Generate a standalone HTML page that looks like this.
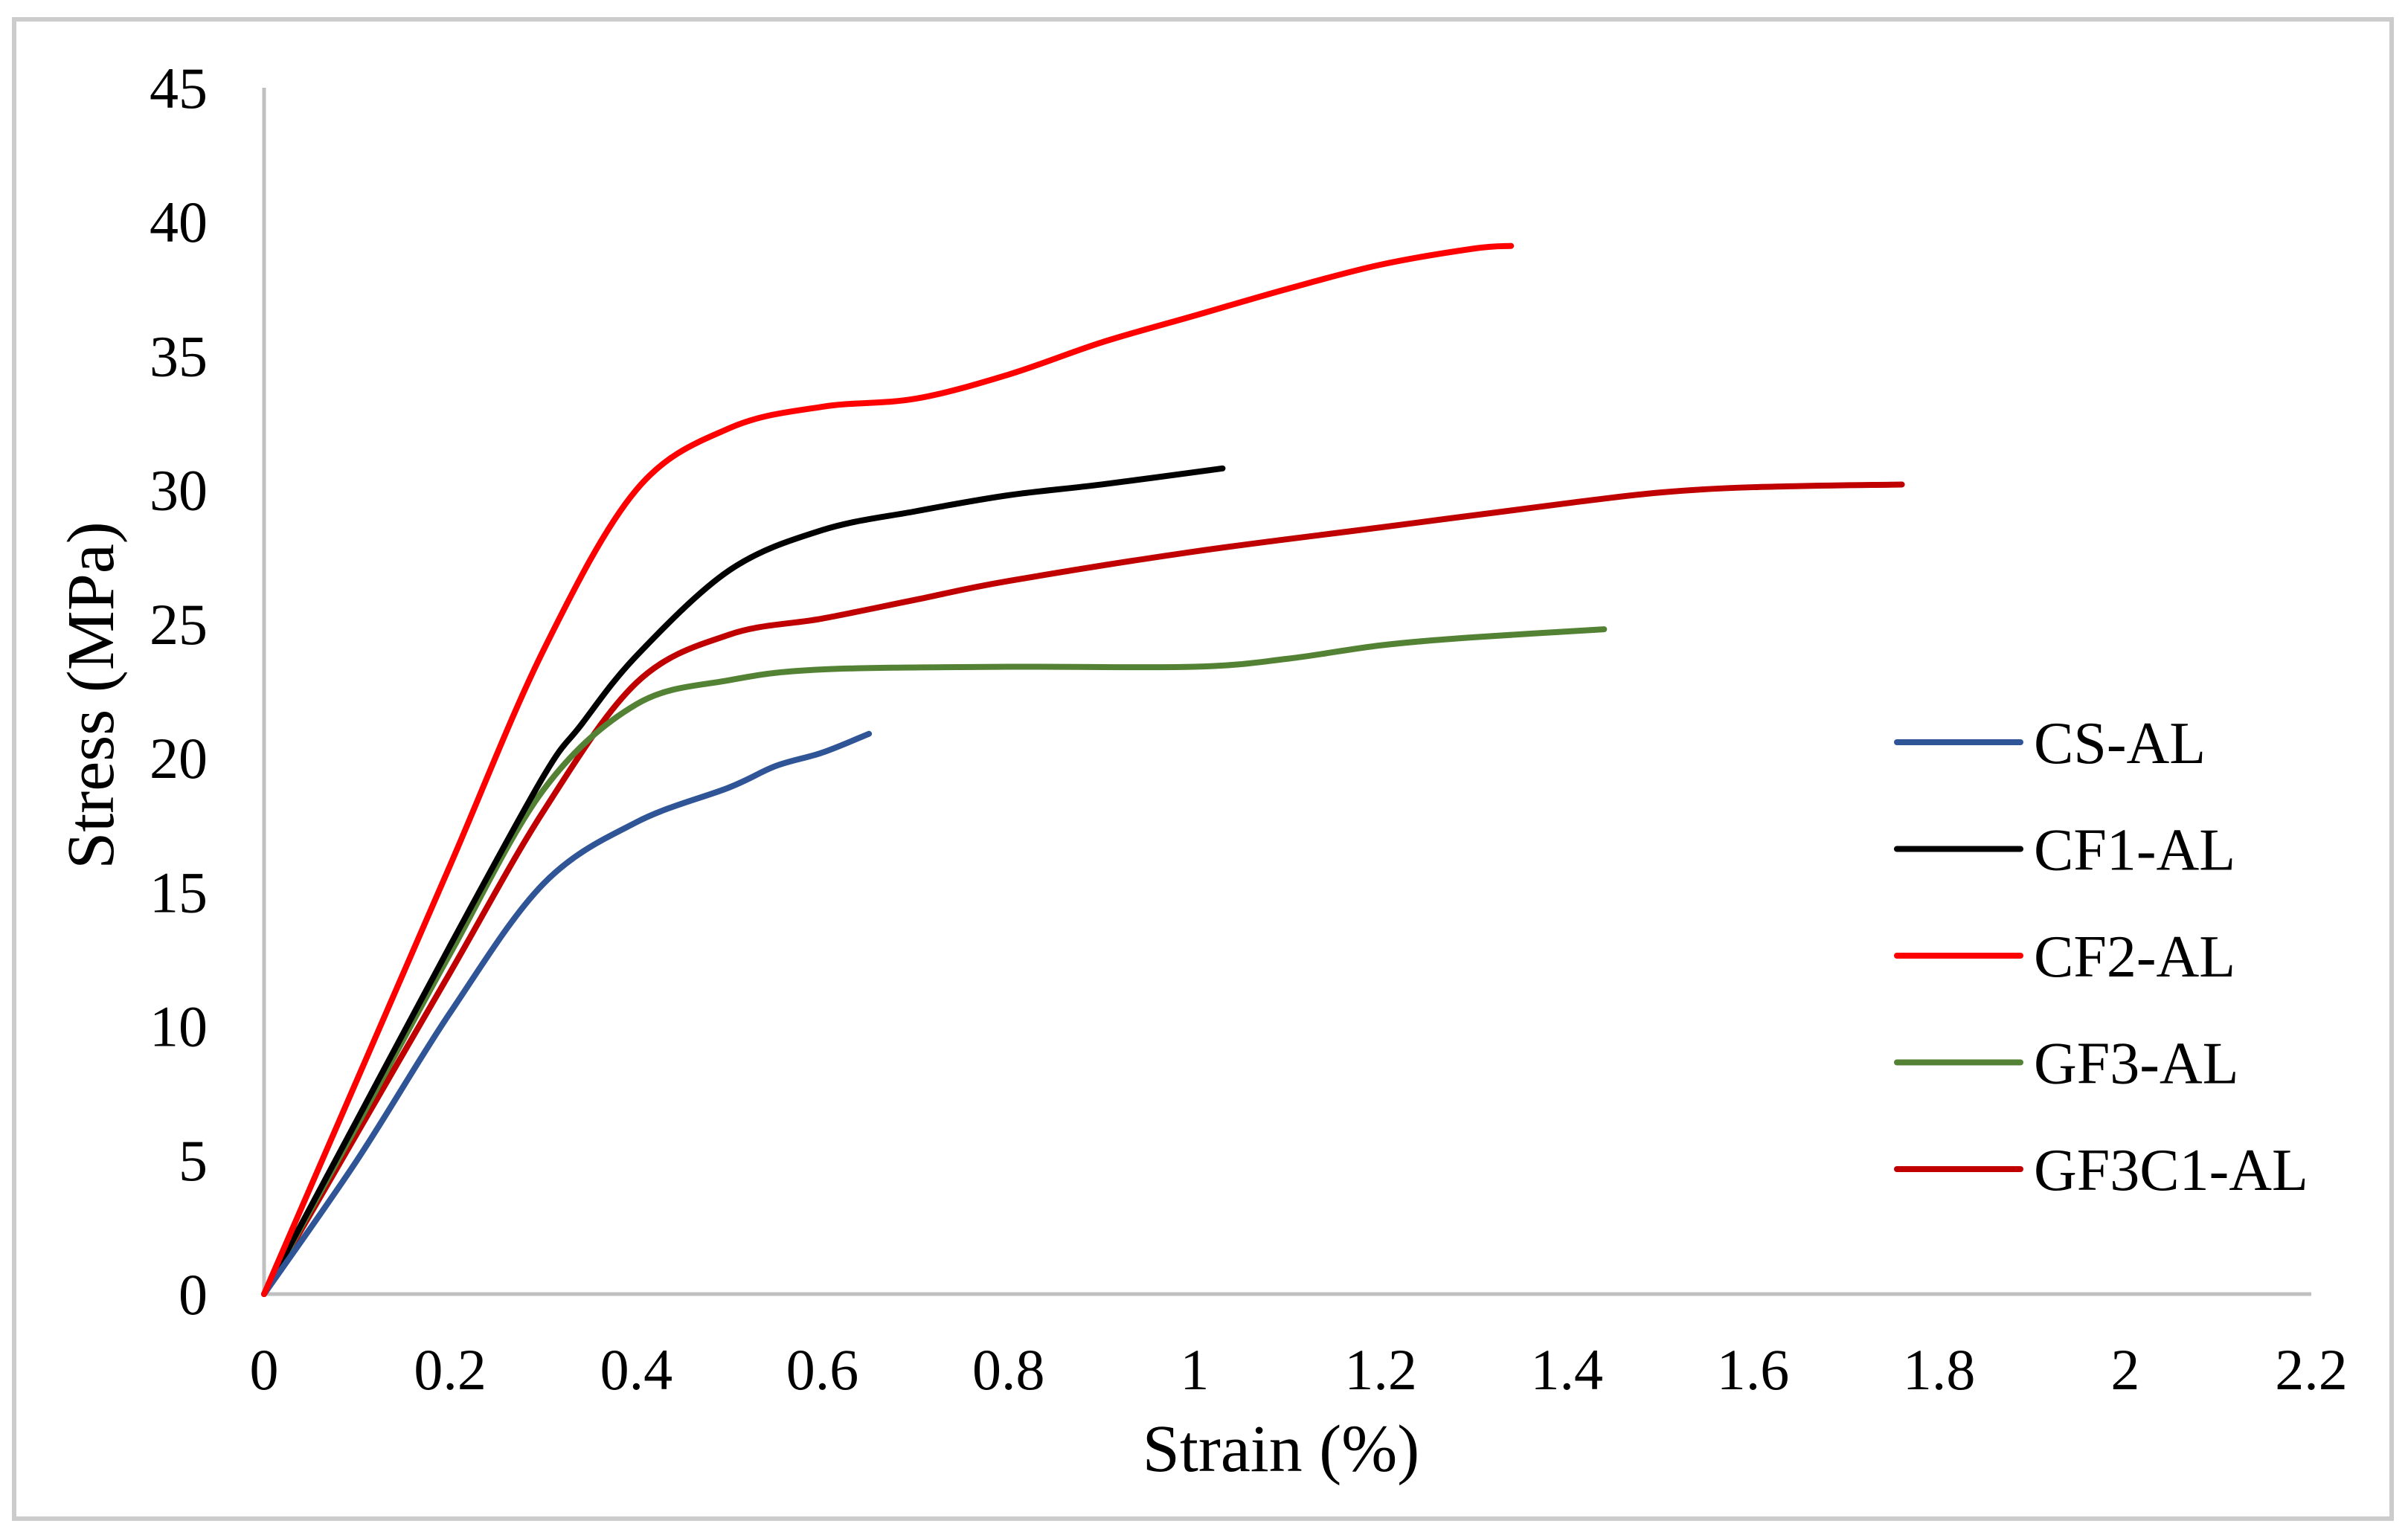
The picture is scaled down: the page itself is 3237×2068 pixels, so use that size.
<!DOCTYPE html>
<html><head><meta charset="utf-8"><style>
html,body{margin:0;padding:0;background:#fff;}
svg{display:block;}
text{font-family:"Liberation Serif",serif;fill:#000;}
</style></head><body>
<svg id="chart" width="3237" height="2068" viewBox="0 0 3237 2068" xmlns="http://www.w3.org/2000/svg">
<rect x="0" y="0" width="3237" height="2068" fill="#fff"/>
<rect x="19" y="26" width="3196" height="2016" fill="#fff" stroke="#cccccc" stroke-width="6"/>
<g id="axes"></g>
<g id="series"></g>
<g id="legend"></g>
<text x="1722" y="1978" font-size="90" text-anchor="middle">Strain (%)</text>
<text x="0" y="0" font-size="90" text-anchor="middle" transform="translate(152,935) rotate(-90)">Stress (MPa)</text>
</svg>
<script>
const xTicks = [0,0.2,0.4,0.6,0.8,1,1.2,1.4,1.6,1.8,2,2.2];
const xTickLabels = ["0","0.2","0.4","0.6","0.8","1","1.2","1.4","1.6","1.8","2","2.2"];
const yTicks = [0,5,10,15,20,25,30,35,40,45];
const yTickLabels = ["0","5","10","15","20","25","30","35","40","45"];
const seriesNames = ["CS-AL","CF1-AL","CF2-AL","GF3-AL","GF3C1-AL"];
const csX = [0,0.1,0.2,0.3,0.4,0.5,0.55,0.6,0.65];
const csY = [0,5,10.5,15.3,17.6,18.9,19.7,20.2,20.9];
const cf1X = [0,0.1,0.2,0.3,0.34,0.4,0.5,0.6,0.7,0.8,0.9,1.03];
const cf1Y = [0,6.5,13,19.3,21.2,23.8,27,28.5,29.2,29.8,30.2,30.8];
const cf2X = [0,0.1,0.2,0.3,0.4,0.5,0.6,0.7,0.8,0.9,1.0,1.1,1.2,1.3,1.34];
const cf2Y = [0,8,16,24,30,32.3,33.1,33.4,34.3,35.5,36.5,37.5,38.4,39.0,39.1];
const gf3X = [0,0.1,0.2,0.3,0.4,0.5,0.6,0.8,1.0,1.1,1.2,1.3,1.44];
const gf3Y = [0,6.3,12.7,18.8,22,22.9,23.3,23.4,23.4,23.7,24.2,24.5,24.8];
const gfcX = [0,0.1,0.2,0.3,0.4,0.5,0.6,0.7,0.8,1.0,1.2,1.4,1.5,1.6,1.76];
const gfcY = [0,6,12,18,22.8,24.6,25.2,25.9,26.6,27.7,28.6,29.5,29.9,30.1,30.2];

const NS="http://www.w3.org/2000/svg";
const X0=355, X1=3107, Y0=1740, Y1=118;
function sx(v){return X0+(v-0)/(2.2-0)*(X1-X0);}
function sy(v){return Y0-(v-0)/(45-0)*(Y0-Y1);}
function mk(tag,attrs,parent){const e=document.createElementNS(NS,tag);for(const k in attrs)e.setAttribute(k,attrs[k]);parent.appendChild(e);return e;}

const axes=document.getElementById('axes');
let yAxis=mk('line',{x1:sx(0),y1:sy(0),x2:sx(0),y2:sy(45),stroke:'#c0c0c0','stroke-width':5},axes);


let xAxis=mk('line',{x1:sx(0),y1:sy(0),x2:sx(2.2),y2:sy(0),stroke:'#c0c0c0','stroke-width':5},axes);


xTicks.forEach((v,i)=>{
  const t=mk('text',{x:sx(v),y:1868,'font-size':78,'text-anchor':'middle'},axes);
  t.textContent=xTickLabels[i];
  
  
});
yTicks.forEach((v,i)=>{
  const t=mk('text',{x:279,y:sy(v)+27,'font-size':78,'text-anchor':'end'},axes);
  t.textContent=yTickLabels[i];
  
  
});

function pathFrom(xs,ys){
  const p=xs.map((x,i)=>[sx(x),sy(ys[i])]);
  let d='M'+p[0][0]+','+p[0][1];
  for(let i=0;i<p.length-1;i++){
    const p0=p[i-1]||p[i],p1=p[i],p2=p[i+1],p3=p[i+2]||p2;
    const c1=[p1[0]+(p2[0]-p0[0])/6,p1[1]+(p2[1]-p0[1])/6];
    const c2=[p2[0]-(p3[0]-p1[0])/6,p2[1]-(p3[1]-p1[1])/6];
    d+=' C'+c1[0]+','+c1[1]+' '+c2[0]+','+c2[1]+' '+p2[0]+','+p2[1];
  }
  return d;
}
const seriesG=document.getElementById('series');
const colors=["#2f5597","#000000","#ff0000","#548235","#c00000"];
const allX=[csX,cf1X,cf2X,gf3X,gfcX], allY=[csY,cf1Y,cf2Y,gf3Y,gfcY];
const order=[4,3,1,0,2];
order.forEach(i=>{
  const el=mk('path',{d:pathFrom(allX[i],allY[i]),fill:'none',stroke:colors[i],'stroke-width':8,'stroke-linecap':'round','stroke-linejoin':'round'},seriesG);
  
  
});

const legend=document.getElementById('legend');
seriesNames.forEach((n,i)=>{
  const y=998+i*143.5;
  const g=mk('g',{},legend);
  
  
  const l=mk('line',{x1:2550,y1:y,x2:2716,y2:y,stroke:colors[i],'stroke-width':8,'stroke-linecap':'round'},g);
  
  
  const t=mk('text',{x:2734,y:y+28,'font-size':80},g);
  t.textContent=n;
  
  
});
</script>
</body></html>
